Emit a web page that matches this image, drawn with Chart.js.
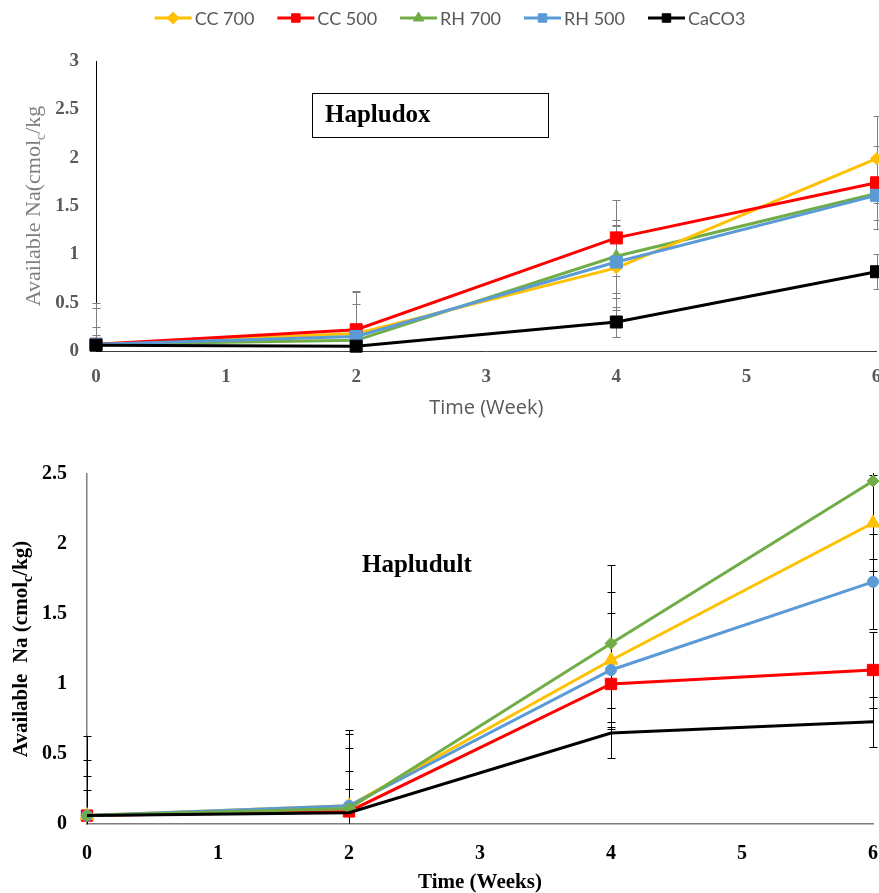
<!DOCTYPE html>
<html>
<head>
<meta charset="utf-8">
<script src="https://cdn.jsdelivr.net/npm/chart.js@4.4.0/dist/chart.umd.min.js"></script>
<style>
  body { margin: 0; background: #fff; overflow: hidden; }
  #wrap { position: relative; width: 879px; height: 893px; overflow: hidden; }
  canvas { position: absolute; left: 0; }
  #top { top: 0; }
  #bottom { top: 430px; }
</style>
</head>
<body>
<div id="wrap">
  <canvas id="top" width="879" height="430"></canvas>
  <canvas id="bottom" width="879" height="463"></canvas>
</div>
<script>
const weeks = [0, 2, 4, 6];
const seriesNames = ['CC 700', 'CC 500', 'RH 700', 'RH 500', 'CaCO3'];
const seriesColors = ['#FFC000', '#FF0000', '#70AD47', '#5B9BD5', '#000000'];

// Hapludox (top)
const oxCC700 = [0.07, 0.18, 0.86, 1.99];
const oxCC500 = [0.07, 0.22, 1.17, 1.74];
const oxRH700 = [0.07, 0.11, 0.98, 1.63];
const oxRH500 = [0.07, 0.15, 0.92, 1.61];
const oxCaCO3 = [0.06, 0.05, 0.30, 0.82];
const oxCC700Err = [0.43, 0.43, 0.44, 0.44];
const oxCC500Err = [0.38, 0.40, 0.39, 0.38];
const oxRH700Err = [0.18, 0.12, 0.38, 0.37];
const oxRH500Err = [0.10, 0.34, 0.37, 0.08];
const oxCaCO3Err = [0.02, 0.02, 0.16, 0.18];

// Hapludult (bottom)
const ultCC700 = [0.06, 0.13, 1.17, 2.15];
const ultCC500 = [0.06, 0.09, 1.00, 1.10];
const ultRH700 = [0.06, 0.11, 1.29, 2.45];
const ultRH500 = [0.06, 0.13, 1.10, 1.73];
const ultCaCO3 = [0.06, 0.08, 0.65, 0.73];
const ultCC700Err = [0.40, 0.51, 0.49, 0.34];
const ultCC500Err = [0.18, 0.29, 0.17, 0.27];
const ultRH700Err = [0.57, 0.56, 0.56, 0.56];
const ultRH500Err = [0.28, 0.41, 0.41, 0.34];
const ultCaCO3Err = [0.02, 0.17, 0.18, 0.18];

const serif = 'Liberation Serif, Times New Roman, serif';

function pts(vals) {
  return weeks.map((w, i) => ({ x: w, y: vals[i] }));
}

// error bars, drawn under the lines
const errorBars = {
  id: 'errorBars',
  beforeDatasetsDraw(chart, args, opts) {
    const { ctx, chartArea, scales } = chart;
    ctx.save();
    ctx.beginPath();
    ctx.rect(chartArea.left - 10, chartArea.top - 1, chartArea.width + 20, chartArea.height + 1);
    ctx.clip();
    ctx.strokeStyle = opts.color;
    ctx.lineWidth = 1;
    chart.data.datasets.forEach(ds => {
      if (!ds.errors) return;
      ds.data.forEach((p, i) => {
        const e = ds.errors[i];
        const x = Math.round(scales.x.getPixelForValue(p.x)) + 0.5;
        const y1 = scales.y.getPixelForValue(p.y + e);
        const y2 = scales.y.getPixelForValue(p.y - e);
        ctx.beginPath();
        ctx.moveTo(x, y1); ctx.lineTo(x, y2);
        ctx.moveTo(x - 4, Math.round(y1) + 0.5); ctx.lineTo(x + 4, Math.round(y1) + 0.5);
        ctx.moveTo(x - 4, Math.round(y2) + 0.5); ctx.lineTo(x + 4, Math.round(y2) + 0.5);
        ctx.stroke();
      });
    });
    ctx.restore();
  }
};

// rotated y title with subscript c
const yTitle = {
  id: 'yTitle',
  afterDraw(chart, args, opts) {
    const { ctx, chartArea } = chart;
    ctx.save();
    ctx.translate(opts.x, (chartArea.top + chartArea.bottom) / 2);
    ctx.rotate(-Math.PI / 2);
    ctx.fillStyle = opts.color;
    ctx.textBaseline = 'alphabetic';
    const fontOf = p => `${opts.weight} ${p.sub ? Math.round(opts.size * 0.65) : opts.size}px ${serif}`;
    let total = 0;
    const widths = opts.parts.map(p => {
      ctx.font = fontOf(p);
      const w = ctx.measureText(p.text).width;
      total += w;
      return w;
    });
    let x = -total / 2;
    opts.parts.forEach((p, i) => {
      ctx.font = fontOf(p);
      ctx.fillText(p.text, x, opts.base + (p.sub ? opts.size * 0.22 : 0));
      x += widths[i];
    });
    ctx.restore();
  }
};

// soil name labels
const soilLabel = {
  id: 'soilLabel',
  afterDraw(chart, args, opts) {
    const { ctx } = chart;
    ctx.save();
    if (opts.box) {
      ctx.fillStyle = '#fff';
      ctx.fillRect(opts.box[0], opts.box[1], opts.box[2], opts.box[3]);
      ctx.strokeStyle = '#000';
      ctx.lineWidth = 1;
      ctx.strokeRect(opts.box[0] + 0.5, opts.box[1] + 0.5, opts.box[2], opts.box[3]);
    }
    ctx.fillStyle = '#000';
    ctx.font = `bold ${opts.size}px ${serif}`;
    ctx.textBaseline = 'alphabetic';
    ctx.fillText(opts.text, opts.x, opts.y);
    ctx.restore();
  }
};

// legend with line + marker icons
const lineLegend = {
  id: 'lineLegend',
  afterDraw(chart, args, opts) {
    const { ctx } = chart;
    const items = seriesNames.map((name, i) => {
      const ds = chart.data.datasets.find(d => d.label === name);
      return { name, color: ds.borderColor, style: ds.pointStyle };
    });
    ctx.save();
    ctx.font = opts.font;
    const iconW = 37, gapIcon = 3, gapItem = 23;
    let total = 0;
    items.forEach(it => { it.w = ctx.measureText(it.name).width; total += iconW + gapIcon + it.w; });
    total += gapItem * (items.length - 1);
    let x = opts.cx - total / 2;
    const y = opts.y;
    items.forEach(it => {
      ctx.strokeStyle = it.color;
      ctx.fillStyle = it.color;
      ctx.lineWidth = 3;
      ctx.beginPath();
      ctx.moveTo(x, y); ctx.lineTo(x + iconW, y);
      ctx.stroke();
      ctx.lineWidth = 1;
      Chart.helpers.drawPoint(ctx, { pointStyle: it.style, radius: 6, rotation: 0, borderWidth: 1 }, x + iconW / 2, y);
      ctx.fillStyle = '#595959';
      ctx.textBaseline = 'middle';
      ctx.fillText(it.name, x + iconW + gapIcon, y + 1);
      x += iconW + gapIcon + it.w + gapItem;
    });
    ctx.restore();
  }
};

function line(label, vals, errs, color, style, radius, order) {
  return {
    label: label,
    data: pts(vals),
    errors: errs,
    borderColor: color,
    backgroundColor: color,
    borderWidth: 3,
    pointStyle: style,
    pointRadius: radius,
    pointBorderWidth: 1,
    tension: 0,
    clip: false,
    order: order
  };
}

const tickText = v => String(v);

// widen the canvas until the plot's right edge sits where the figure has it;
// the page clips the overflow, cutting the last x label like the original
function fitRight(chart, target) {
  for (let k = 0; k < 3; k++) {
    const diff = Math.round(target - chart.chartArea.right);
    if (!diff) break;
    chart.resize(chart.width + diff, chart.height);
  }
}

const topChart = new Chart(document.getElementById('top'), {
  type: 'line',
  data: {
    datasets: [
      line(seriesNames[0], oxCC700, oxCC700Err, seriesColors[0], 'rectRot', 6, 3),
      line(seriesNames[1], oxCC500, oxCC500Err, seriesColors[1], 'rect', 8.5, 2),
      line(seriesNames[2], oxRH700, oxRH700Err, seriesColors[2], 'triangle', 7, 4),
      line(seriesNames[3], oxRH500, oxRH500Err, seriesColors[3], 'rect', 8.5, 1),
      line(seriesNames[4], oxCaCO3, oxCaCO3Err, seriesColors[4], 'rect', 8.5, 0)
    ]
  },
  options: {
    responsive: false,
    maintainAspectRatio: false,
    animation: false,
    events: [],
    layout: { padding: { top: 61, right: 0, left: 0, bottom: 0 } },
    plugins: {
      legend: { display: false },
      tooltip: { enabled: false },
      errorBars: { color: '#7f7f7f' },
      yTitle: { x: 33, size: 22, weight: 'normal', color: '#7f7f7f', base: 7,
        parts: [{ text: 'Available Na(cmol' }, { text: 'c', sub: true }, { text: '/kg' }] },
      soilLabel: { text: 'Hapludox', x: 325, y: 122, size: 25, box: [312, 93, 236, 44] },
      lineLegend: { cx: 450, y: 18, font: '18px Lato, Open Sans, sans-serif' }
    },
    scales: {
      x: {
        type: 'linear', min: 0, max: 6,
        grid: { display: false, drawTicks: false },
        border: { display: true, color: '#404040', width: 1 },
        ticks: { stepSize: 1, padding: 15, maxRotation: 0, color: '#595959', callback: tickText,
          font: { family: serif, size: 19, weight: 'bold' } },
        title: { display: true, text: 'Time (Week)', color: '#595959',
          font: { family: 'Open Sans, sans-serif', size: 20 }, padding: { top: 0, bottom: 10 } },
        afterFit(s) { s.height = 79; s.paddingLeft = 0; s.paddingRight = 0; }
      },
      y: {
        min: 0, max: 3,
        grid: { display: false, drawTicks: false },
        border: { display: true, color: '#000', width: 1 },
        ticks: { stepSize: 0.5, padding: 17, color: '#595959', callback: tickText,
          font: { family: serif, size: 19, weight: 'bold' } },
        afterFit(s) { s.width = 96; }
      }
    }
  },
  plugins: [errorBars, yTitle, soilLabel, lineLegend]
});
fitRight(topChart, 876);

const bottomChart = new Chart(document.getElementById('bottom'), {
  type: 'line',
  data: {
    datasets: [
      line(seriesNames[0], ultCC700, ultCC700Err, seriesColors[0], 'triangle', 8, 3),
      line(seriesNames[1], ultCC500, ultCC500Err, seriesColors[1], 'rect', 8, 4),
      line(seriesNames[2], ultRH700, ultRH700Err, seriesColors[2], 'rectRot', 6, 1),
      line(seriesNames[3], ultRH500, ultRH500Err, seriesColors[3], 'circle', 5.5, 2),
      line(seriesNames[4], ultCaCO3, ultCaCO3Err, seriesColors[4], 'circle', 0, 0)
    ]
  },
  options: {
    responsive: false,
    maintainAspectRatio: false,
    animation: false,
    events: [],
    layout: { padding: { top: 44, right: 0, left: 0, bottom: 0 } },
    plugins: {
      legend: { display: false },
      tooltip: { enabled: false },
      errorBars: { color: '#000' },
      yTitle: { x: 20, size: 21, weight: 'bold', color: '#000', base: 7,
        parts: [{ text: 'Available  Na (cmol' }, { text: 'c', sub: true }, { text: '/kg)' }] },
      soilLabel: { text: 'Hapludult', x: 362, y: 142, size: 25 }
    },
    scales: {
      x: {
        type: 'linear', min: 0, max: 6,
        grid: { display: false, drawTicks: false },
        border: { display: true, color: '#7f7f7f', width: 1.5 },
        ticks: { stepSize: 1, padding: 18, maxRotation: 0, color: '#000', callback: tickText,
          font: { family: serif, size: 20, weight: 'bold' } },
        title: { display: true, text: 'Time (Weeks)', color: '#000',
          font: { family: serif, size: 21, weight: 'bold', lineHeight: 1 }, padding: { top: 0, bottom: 0 } },
        afterFit(s) { s.height = 69; s.paddingLeft = 0; s.paddingRight = 0; }
      },
      y: {
        min: 0, max: 2.5,
        grid: { display: false, drawTicks: false },
        border: { display: true, color: '#7f7f7f', width: 1.5 },
        ticks: { stepSize: 0.5, padding: 20, color: '#000', callback: tickText,
          font: { family: serif, size: 20, weight: 'bold' } },
        afterFit(s) { s.width = 87; }
      }
    }
  },
  plugins: [errorBars, yTitle, soilLabel]
});
fitRight(bottomChart, 873);
</script>
</body>
</html>
